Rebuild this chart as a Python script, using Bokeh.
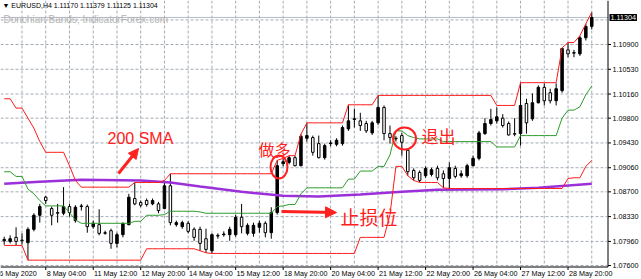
from bokeh.plotting import figure
from bokeh.models import Range1d, Label, Arrow, NormalHead, ColumnDataSource
from bokeh.core.properties import value
from bokeh.embed import file_html
from bokeh.resources import INLINE

# ---------------- data (EURUSD H4) ----------------
opens = [1.0797,1.0796,1.0802,1.0798,1.0794,1.0814,1.0835,1.0862,1.0845,1.0839,
         1.0838,1.0848,1.0827,1.0848,1.0848,1.0818,1.0821,1.0809,1.0812,1.0793,
         1.0806,1.0821,1.0860,1.0854,1.0857,1.0852,1.0852,1.0845,1.0879,1.0821,
         1.0818,1.0823,1.0814,1.0814,1.0800,1.0782,1.0805,1.0806,1.0806,1.0806,
         1.0832,1.0808,1.0808,1.0817,1.0823,1.0809,1.0839,1.0912,1.0914,1.0921,
         1.0909,1.0950,1.0951,1.0942,1.0921,1.0942,1.0941,1.0942,1.0964,1.0978,
         1.0976,1.0972,1.0958,1.0973,1.0996,1.0957,1.0950,1.0954,1.0932,1.0902,
         1.0899,1.0894,1.0896,1.0905,1.0897,1.0890,1.0905,1.0894,1.0894,1.0909,
         1.0920,1.0957,1.0972,1.0976,1.0980,1.0972,1.0957,1.0957,1.1002,1.0979,
         1.1003,1.1026,1.1018,1.1006,1.1021,1.1082,1.1078,1.1076,1.1100,1.11170]
highs = [1.0803,1.0805,1.0817,1.0808,1.0817,1.0838,1.0852,1.0864,1.0848,1.0852,
         1.0877,1.0852,1.0850,1.0852,1.0851,1.0827,1.0844,1.0812,1.0815,1.0809,
         1.0824,1.0867,1.0884,1.0857,1.0860,1.0860,1.0855,1.0887,1.0897,1.0827,
         1.0827,1.0826,1.0817,1.0818,1.0815,1.0808,1.0808,1.0811,1.0818,1.0836,
         1.0852,1.0823,1.0824,1.0827,1.0826,1.0847,1.0917,1.0920,1.0924,1.0924,
         1.0956,1.0973,1.0954,1.0954,1.0942,1.0947,1.0950,1.0969,1.1000,1.0994,
         1.0988,1.0976,1.0976,1.1014,1.0999,1.0969,1.0953,1.0958,1.0934,1.0905,
         1.0902,1.0908,1.0906,1.0909,1.0902,1.0914,1.0909,1.0902,1.0912,1.0924,
         1.0961,1.0980,1.0994,1.0996,1.0986,1.0975,1.0980,1.1033,1.1009,1.1017,
         1.1029,1.1032,1.1024,1.1032,1.1085,1.1093,1.1082,1.1103,1.1121,1.11379]
lows = [1.0791,1.0793,1.0790,1.0791,1.0768,1.0811,1.0824,1.0852,1.0820,1.0824,
        1.0835,1.0833,1.0824,1.0842,1.0809,1.0815,1.0805,1.0806,1.0785,1.0787,
        1.0802,1.0820,1.0850,1.0847,1.0848,1.0850,1.0838,1.0844,1.0820,1.0818,
        1.0815,1.0808,1.0797,1.0782,1.0779,1.0778,1.0800,1.0803,1.0797,1.0803,
        1.0808,1.0805,1.0803,1.0809,1.0802,1.0800,1.0836,1.0908,1.0911,1.0908,
        1.0908,1.0945,1.0924,1.0920,1.0918,1.0938,1.0938,1.0939,1.0961,1.0966,
        1.0961,1.0958,1.0955,1.0970,1.0947,1.0942,1.0945,1.0924,1.0894,1.0887,
        1.0884,1.0891,1.0893,1.0887,1.0876,1.0875,1.0890,1.0891,1.0891,1.0908,
        1.0917,1.0955,1.0969,1.0972,1.0966,1.0954,1.0953,1.0939,1.0957,1.0976,
        1.1002,1.0999,1.1002,1.0999,1.1018,1.1071,1.1071,1.1073,1.1096,1.11125]
closes = [1.0799,1.0800,1.0796,1.0797,1.0814,1.0835,1.0848,1.0857,1.0835,1.0838,
          1.0848,1.0839,1.0847,1.0849,1.0818,1.0823,1.0808,1.0808,1.0793,1.0806,
          1.0823,1.0862,1.0852,1.0850,1.0851,1.0857,1.0842,1.0879,1.0824,1.0824,
          1.0824,1.0811,1.0802,1.0793,1.0784,1.0806,1.0804,1.0807,1.0814,1.0832,
          1.0818,1.0820,1.0820,1.0823,1.0809,1.0839,1.0909,1.0915,1.0921,1.0909,
          1.0953,1.0954,1.0929,1.0921,1.0939,1.0943,1.0947,1.0966,1.0976,1.0979,
          1.0969,1.0961,1.0973,1.0996,1.0957,1.0951,1.0949,1.0944,1.0900,1.0891,
          1.0887,1.0905,1.0903,1.0891,1.0890,1.0906,1.0893,1.0897,1.0909,1.0920,
          1.0958,1.0972,1.0978,1.0982,1.0969,1.0955,1.0956,1.0999,1.0973,1.1003,
          1.1026,1.1006,1.1006,1.1024,1.1084,1.1076,1.1077,1.1100,1.1117,1.11304]

donchian_upper = [1.1009,1.1009,1.0995,1.0995,1.0980,1.0965,1.0945,1.0929,1.0929,1.0929,
                  1.0929,1.0909,1.0887,1.0877,1.0877,1.0877,1.0877,1.0877,1.0877,1.0877,
                  1.0877,1.0877,1.0884,1.0884,1.0884,1.0884,1.0884,1.0887,1.0897,1.0897,
                  1.0897,1.0897,1.0897,1.0897,1.0897,1.0897,1.0897,1.0897,1.0897,1.0897,
                  1.0897,1.0897,1.0897,1.0897,1.0897,1.0897,1.0917,1.0920,1.0924,1.0924,
                  1.0956,1.0973,1.0973,1.0973,1.0973,1.0973,1.0973,1.0973,1.1000,1.1000,
                  1.1000,1.1000,1.1000,1.1014,1.1014,1.1014,1.1014,1.1014,1.1014,1.1014,
                  1.1014,1.1014,1.1014,1.1014,1.1014,1.1014,1.1014,1.1014,1.1014,1.1014,
                  1.1014,1.1014,1.1014,1.0999,1.0999,1.0999,1.0999,1.1033,1.1033,1.1033,
                  1.1033,1.1033,1.1033,1.1033,1.1085,1.1093,1.1093,1.1103,1.1121,1.1138]
donchian_lower = [1.0790,1.0790,1.0790,1.0790,1.0768,1.0768,1.0768,1.0768,1.0768,1.0768,
                  1.0768,1.0768,1.0768,1.0768,1.0768,1.0768,1.0768,1.0768,1.0768,1.0768,
                  1.0768,1.0768,1.0768,1.0768,1.0785,1.0785,1.0785,1.0785,1.0785,1.0785,
                  1.0785,1.0785,1.0785,1.0782,1.0779,1.0778,1.0778,1.0778,1.0778,1.0778,
                  1.0778,1.0778,1.0778,1.0778,1.0778,1.0778,1.0778,1.0778,1.0778,1.0778,
                  1.0778,1.0778,1.0778,1.0778,1.0778,1.0778,1.0778,1.0778,1.0778,1.0778,
                  1.0802,1.0802,1.0802,1.0802,1.0802,1.0836,1.0908,1.0908,1.0894,1.0887,
                  1.0884,1.0884,1.0884,1.0884,1.0876,1.0875,1.0875,1.0875,1.0875,1.0875,
                  1.0875,1.0875,1.0875,1.0875,1.0875,1.0875,1.0875,1.0875,1.0875,1.0875,
                  1.0875,1.0875,1.0875,1.0875,1.0875,1.0890,1.0891,1.0891,1.0908,1.0917]
donchian_middle = [1.0900,1.0900,1.0893,1.0893,1.0874,1.0867,1.0857,1.0849,1.0849,1.0849,
                   1.0849,1.0839,1.0828,1.0823,1.0823,1.0823,1.0823,1.0823,1.0823,1.0823,
                   1.0823,1.0823,1.0826,1.0826,1.0835,1.0835,1.0835,1.0836,1.0841,1.0841,
                   1.0841,1.0841,1.0841,1.0840,1.0838,1.0838,1.0838,1.0838,1.0838,1.0838,
                   1.0838,1.0838,1.0838,1.0838,1.0838,1.0838,1.0848,1.0849,1.0851,1.0851,
                   1.0867,1.0876,1.0876,1.0876,1.0876,1.0876,1.0876,1.0876,1.0889,1.0889,
                   1.0901,1.0901,1.0901,1.0908,1.0908,1.0925,1.0961,1.0961,1.0954,1.0951,
                   1.0949,1.0949,1.0949,1.0949,1.0945,1.0945,1.0945,1.0945,1.0945,1.0945,
                   1.0945,1.0945,1.0945,1.0937,1.0937,1.0937,1.0937,1.0954,1.0954,1.0954,
                   1.0954,1.0954,1.0954,1.0954,1.0980,1.0992,1.0992,1.0997,1.1015,1.1028]
sma_bars = [0, 6, 13, 23, 28, 33, 40, 47, 53, 60, 67, 73, 84, 90, 99]
sma200 = [1.0882,1.0885,1.0888,1.0887,1.0884,1.0878,1.0870,1.0864,1.0863,1.0866,
          1.0870,1.0873,1.0874,1.0876,1.0882]

price_ticks = [1.07600,1.07960,1.08330,1.08700,1.09060,1.09430,1.09800,1.10160,1.10530,1.10900]
extra_grid = [1.11267]
last_price = 1.11304
time_tick_bars = [-1, 7, 15, 23, 31, 39, 47, 55, 63, 71, 79, 87, 95]
time_tick_labels = ["6 May 2020", "8 May 04:00", "11 May 12:00", "12 May 20:00",
                    "14 May 04:00", "15 May 12:00", "18 May 20:00", "20 May 04:00",
                    "21 May 12:00", "22 May 20:00", "26 May 04:00", "27 May 12:00",
                    "28 May 20:00"]
header = "\u25bc EURUSD,H4  1.11170 1.11379 1.11125 1.11304"
subtitle = "Donchian Bands; IndicatorForex.com"

# ---------------- layout constants (pixels) ----------------
W, H = 641, 279
PX_BAR = 5.935      # pixels per bar
X0 = 3.7            # pixel of bar 0
PX_PRICE = 6697.0   # pixels per price unit
CHART_R, CHART_B = 607.5, 266.5   # right / bottom edge of the price area


def bx(px):
    return (px - X0) / PX_BAR


def py(pix):
    return 1.076 + (265 - pix) / PX_PRICE


RED = "#ff2020"
FONT = "Liberation Sans"
CJK = "Noto Sans CJK SC"
GRID = "#a3abb5"
TICK_FS = "7.2px"

p = figure(width=W, height=H, x_range=Range1d(bx(0), bx(W)), y_range=Range1d(py(H), py(0)),
           output_backend="svg", toolbar_location=None,
           x_axis_location=None, y_axis_location=None,
           min_border_left=0, min_border_top=0, min_border_right=0, min_border_bottom=0)
p.outline_line_color = None
p.background_fill_color = "white"
p.border_fill_color = "white"
p.grid.grid_line_color = None

# ---- grid (dashed), inside the price area only ----
vgrid = list(range(3, len(opens) + 1, 4))
p.segment(x0=vgrid, y0=[py(0)] * len(vgrid), x1=vgrid, y1=[py(CHART_B - 1)] * len(vgrid),
          line_color=GRID, line_dash="3 2", line_width=1)
hgrid = price_ticks + extra_grid
p.segment(x0=[bx(0)] * len(hgrid), y0=hgrid, x1=[bx(CHART_R - 1)] * len(hgrid), y1=hgrid,
          line_color=GRID, line_dash="3 2", line_width=1)

# ---- bid line ----
p.segment(x0=[bx(0)], y0=[last_price], x1=[bx(CHART_R)], y1=[last_price],
          line_color="#b4bcc6", line_width=1)

# ---- candles ----
bars = list(range(len(opens)))
src = ColumnDataSource(dict(
    x=bars, o=opens, h=highs, l=lows, c=closes,
    top=[max(a, b) for a, b in zip(opens, closes)],
    bottom=[min(a, b) for a, b in zip(opens, closes)],
    fill=["black" if c >= o else "white" for o, c in zip(opens, closes)]))
p.segment(x0="x", y0="h", x1="x", y1="l", source=src, line_color="black", line_width=1)
p.vbar(x="x", width=0.42, top="top", bottom="bottom", fill_color="fill",
       line_color="black", line_width=1, source=src)

# ---- indicators ----
p.line(sma_bars, sma200, line_color="#9b30d9", line_width=2.5)
p.line(bars, donchian_upper, line_color="#ff1a1a", line_width=1)
p.line(bars, donchian_lower, line_color="#ff1a1a", line_width=1)
p.line(bars, donchian_middle, line_color="#2e9b2e", line_width=1)

# ---- axes drawn by hand: right price scale, bottom time scale ----
p.segment(x0=[bx(CHART_R), bx(0)], y0=[py(0), py(CHART_B)],
          x1=[bx(CHART_R), bx(CHART_R)], y1=[py(CHART_B), py(CHART_B)],
          line_color="black", line_width=1)
p.segment(x0=[bx(CHART_R)] * len(price_ticks), y0=price_ticks,
          x1=[bx(CHART_R + 3)] * len(price_ticks), y1=price_ticks,
          line_color="black", line_width=1)
p.text(x=[bx(CHART_R + 4.5)] * len(price_ticks), y=price_ticks,
       text=["%.5f" % v for v in price_ticks], text_font=value(FONT),
       text_font_size=TICK_FS, text_color="black", text_baseline="middle", text_align="left")
p.segment(x0=time_tick_bars, y0=[py(CHART_B)] * len(time_tick_bars),
          x1=time_tick_bars, y1=[py(CHART_B + 3)] * len(time_tick_bars),
          line_color="black", line_width=1)
p.text(x=[b + 0.15 for b in time_tick_bars], y=[py(CHART_B + 1.5)] * len(time_tick_bars),
       text=time_tick_labels, text_font=value(FONT), text_font_size=TICK_FS,
       text_color="black", text_baseline="top", text_align="left")

# last price box
p.add_layout(Label(x=bx(CHART_R + 1.5), y=last_price, text="%.5f" % last_price, text_font=FONT,
                   text_font_size=TICK_FS, text_color="white", text_align="left",
                   text_baseline="middle", background_fill_color="black", padding=1))

# ---- header texts ----
p.add_layout(Label(x=bx(2), y=py(1), text=header, text_font=FONT, text_font_size="7px",
                   text_color="black", text_baseline="top"))
p.add_layout(Label(x=bx(3), y=py(13), text=subtitle, text_font=FONT, text_font_size="10px",
                   text_color="#b4b4b4", text_baseline="top"))

# ---- annotations ----
entry_bar, exit_bar = 46, 67
p.ellipse(x=[entry_bar + 0.3, exit_bar + 0.45], y=[py(166.5), py(138)],
          width=[17 / PX_BAR, 23 / PX_BAR], height=[23 / PX_PRICE, 22 / PX_PRICE],
          fill_color=None, line_color=RED, line_width=2)
p.add_layout(Arrow(x_start=bx(118), y_start=py(173), x_end=bx(138), y_end=py(148),
                   line_color=RED, line_width=3,
                   end=NormalHead(size=10, fill_color=RED, line_color=RED)))
p.add_layout(Arrow(x_start=bx(281), y_start=py(211), x_end=bx(336), y_end=py(212),
                   line_color=RED, line_width=3,
                   end=NormalHead(size=11, fill_color=RED, line_color=RED)))
p.add_layout(Label(x=bx(107), y=py(129), text="200 SMA", text_font=FONT,
                   text_font_size="16px", text_color=RED, text_baseline="top"))
p.add_layout(Label(x=bx(258), y=py(136), text="做多", text_font=CJK,
                   text_font_size="16px", text_color=RED, text_baseline="top"))
p.add_layout(Label(x=bx(340), y=py(202), text="止损位", text_font=CJK,
                   text_font_size="19px", text_color=RED, text_baseline="top"))
p.add_layout(Label(x=bx(421), y=py(122), text="退出", text_font=CJK,
                   text_font_size="17px", text_color=RED, text_baseline="top"))

open("out.html", "w").write(file_html(p, INLINE))
